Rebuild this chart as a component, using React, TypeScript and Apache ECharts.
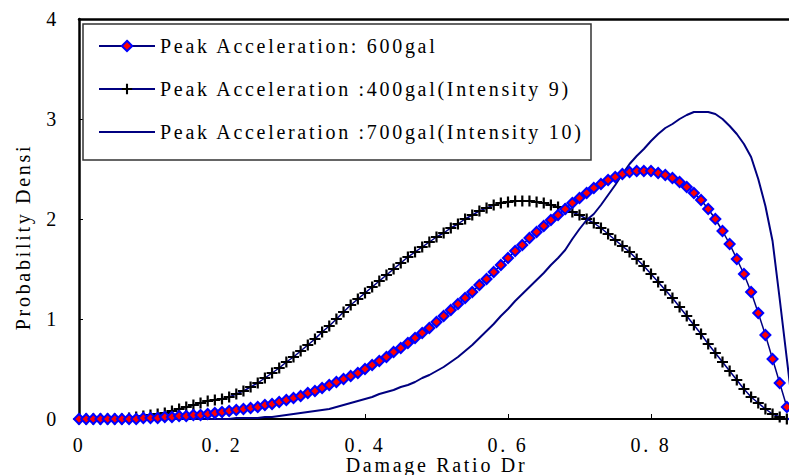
import React, { useEffect, useRef } from 'react';
import * as echarts from 'echarts';

const damageRatio = [
  0, 0.01, 0.02, 0.03, 0.04, 0.05, 0.06, 0.07, 0.08, 0.09,
  0.1, 0.11, 0.12, 0.13, 0.14, 0.15, 0.16, 0.17, 0.18, 0.19,
  0.2, 0.21, 0.22, 0.23, 0.24, 0.25, 0.26, 0.27, 0.28, 0.29,
  0.3, 0.31, 0.32, 0.33, 0.34, 0.35, 0.36, 0.37, 0.38, 0.39,
  0.4, 0.41, 0.42, 0.43, 0.44, 0.45, 0.46, 0.47, 0.48, 0.49,
  0.5, 0.51, 0.52, 0.53, 0.54, 0.55, 0.56, 0.57, 0.58, 0.59,
  0.6, 0.61, 0.62, 0.63, 0.64, 0.65, 0.66, 0.67, 0.68, 0.69,
  0.7, 0.71, 0.72, 0.73, 0.74, 0.75, 0.76, 0.77, 0.78, 0.79,
  0.8, 0.81, 0.82, 0.83, 0.84, 0.85, 0.86, 0.87, 0.88, 0.89,
  0.9, 0.91, 0.92, 0.93, 0.94, 0.95, 0.96, 0.97, 0.98, 0.99,
  1,
];

const pga600 = [
  0, 0, 0, 0, 0, 0, 0, 0, 0, 0.01,
  0.01, 0.01, 0.02, 0.02, 0.03, 0.03, 0.04, 0.04, 0.05, 0.06,
  0.07, 0.08, 0.09, 0.1, 0.11, 0.12, 0.14, 0.15, 0.17, 0.19,
  0.21, 0.23, 0.26, 0.28, 0.31, 0.34, 0.37, 0.4, 0.43, 0.46,
  0.5, 0.54, 0.58, 0.62, 0.67, 0.71, 0.76, 0.81, 0.86, 0.91,
  0.97, 1.03, 1.09, 1.15, 1.21, 1.27, 1.34, 1.4, 1.47, 1.54,
  1.61, 1.68, 1.74, 1.81, 1.87, 1.93, 1.99, 2.04, 2.1, 2.16,
  2.21, 2.26, 2.31, 2.35, 2.39, 2.42, 2.45, 2.47, 2.48, 2.48,
  2.48, 2.46, 2.44, 2.41, 2.37, 2.32, 2.26, 2.19, 2.1, 2.0,
  1.88, 1.75, 1.6, 1.45, 1.27, 1.06, 0.84, 0.6, 0.36, 0.12,
  0,
];

const pga400 = [
  0, 0, 0, 0, 0, 0, 0, 0.01, 0.02, 0.03,
  0.04, 0.05, 0.06, 0.08, 0.1, 0.12, 0.14, 0.16, 0.18, 0.19,
  0.2, 0.22, 0.25, 0.28, 0.32, 0.36, 0.41, 0.46, 0.51, 0.57,
  0.62, 0.68, 0.74, 0.8, 0.87, 0.93, 1.0, 1.07, 1.14, 1.2,
  1.26, 1.32, 1.38, 1.44, 1.5, 1.56, 1.62, 1.67, 1.72, 1.77,
  1.82, 1.86, 1.91, 1.95, 2.0, 2.04, 2.08, 2.11, 2.14, 2.16,
  2.17, 2.18, 2.18, 2.18, 2.17, 2.16, 2.14, 2.12, 2.1, 2.07,
  2.04, 2.0, 1.96, 1.91, 1.85, 1.79, 1.73, 1.67, 1.6, 1.53,
  1.45, 1.37, 1.29, 1.21, 1.12, 1.03, 0.94, 0.85, 0.75, 0.66,
  0.57, 0.48, 0.39, 0.3, 0.22, 0.16, 0.1, 0.05, 0.02, 0,
  0,
];

const pga700 = [
  0, 0, 0, 0, 0, 0, 0, 0, 0, 0,
  0, 0, 0, 0, 0, 0, 0, 0, 0, 0,
  0, 0, 0.01, 0.01, 0.01, 0.01, 0.02, 0.02, 0.03, 0.04,
  0.05, 0.06, 0.07, 0.08, 0.09, 0.1, 0.12, 0.14, 0.16, 0.18,
  0.2, 0.22, 0.25, 0.27, 0.29, 0.32, 0.34, 0.37, 0.41, 0.44,
  0.48, 0.52, 0.57, 0.62, 0.68, 0.74, 0.81, 0.88, 0.95, 1.03,
  1.1, 1.18, 1.25, 1.32, 1.39, 1.46, 1.54, 1.61, 1.69, 1.8,
  1.9, 1.99, 2.05, 2.14, 2.24, 2.34, 2.45, 2.55, 2.63, 2.7,
  2.78, 2.85, 2.91, 2.95, 3.0, 3.04, 3.07, 3.07, 3.07, 3.05,
  3.0, 2.93, 2.85, 2.75, 2.62, 2.4, 2.13, 1.78, 1.2, 0.6,
  0,
];

const seriesNames = [
  'Peak Acceleration: 600gal',
  'Peak Acceleration :400gal(Intensity 9)',
  'Peak Acceleration :700gal(Intensity 10)',
];

const xAxisTitle = 'Damage Ratio Dr';
const yAxisTitle = 'Probability Densi';
const xTickLabels: Record<string, string> = {
  '0': '0',
  '0.2': '0. 2',
  '0.4': '0. 4',
  '0.6': '0. 6',
  '0.8': '0. 8',
  '1': '',
};

const FONT = 'Liberation Serif, serif';
const PLUS = 'path://M4,0H6V4H10V6H6V10H4V6H0V4H4Z';

export default function App() {
  const ref = useRef<HTMLDivElement>(null);

  useEffect(() => {
    if (!ref.current) return;
    const chart = echarts.init(ref.current, null, { renderer: 'svg' });
    const pairs = (ys: number[]) => damageRatio.map((x, i) => [x, ys[i]]);
    chart.setOption({
      animation: false,
      backgroundColor: '#fff',
      grid: {
        left: 79,
        top: 19,
        width: 715,
        height: 400,
        containLabel: false,
        outerBoundsMode: 'none',
      },
      xAxis: [
        {
          type: 'value',
          min: 0,
          max: 1,
          interval: 0.2,
          position: 'bottom',
          name: xAxisTitle,
          nameLocation: 'middle',
          nameGap: 36,
          nameMoveOverlap: false,
          nameTextStyle: { fontFamily: FONT, fontSize: 20, color: '#000' },
          axisLine: { show: true, onZero: false, lineStyle: { color: '#000', width: 2 } },
          axisTick: { show: true, inside: true, length: 5, lineStyle: { color: '#000', width: 1 } },
          axisLabel: {
            margin: 16,
            fontFamily: FONT,
            fontSize: 20,
            color: '#000',
            formatter: (v: number) => {
              const k = String(Math.round(v * 10) / 10);
              return xTickLabels[k] ?? k;
            },
          },
          splitLine: { show: false },
        },
        {
          type: 'value',
          min: 0,
          max: 1,
          position: 'top',
          axisLine: { show: true, onZero: false, lineStyle: { color: '#000', width: 2.5 } },
          axisTick: { show: false },
          axisLabel: { show: false },
          splitLine: { show: false },
        },
      ],
      yAxis: {
        type: 'value',
        min: 0,
        max: 4,
        interval: 1,
        name: yAxisTitle,
        nameLocation: 'middle',
        nameGap: 46,
        nameRotate: 90,
        nameTextStyle: { fontFamily: FONT, fontSize: 20, color: '#000', padding: [0, 36, 0, 0] },
        axisLine: { show: true, onZero: false, lineStyle: { color: '#000', width: 2.5 } },
        axisTick: { show: true, inside: true, length: 4, lineStyle: { color: '#000', width: 1 } },
        axisLabel: { margin: 20, fontFamily: FONT, fontSize: 20, color: '#000' },
        splitLine: { show: false },
      },
      legend: {
        orient: 'vertical',
        left: 93,
        top: 30,
        itemWidth: 56,
        itemHeight: 13,
        itemGap: 21,
        selectedMode: false,
        data: [
          { name: seriesNames[0] },
          { name: seriesNames[1] },
          { name: seriesNames[2], itemStyle: { opacity: 0 } },
        ],
        textStyle: { fontFamily: FONT, fontSize: 20, color: '#000', lineHeight: 22 },
      },
      graphic: [
        {
          type: 'rect',
          z: 1,
          shape: { x: 83, y: 24, width: 508, height: 136 },
          style: { fill: '#fff', stroke: '#333', lineWidth: 1.5 },
        },
      ],
      series: [
        {
          name: seriesNames[0],
          type: 'line',
          data: pairs(pga600),
          symbol: 'diamond',
          symbolSize: 10,
          z: 4,
          itemStyle: { color: '#ff0000', borderColor: '#0000ff', borderWidth: 2 },
          lineStyle: { color: '#000080', width: 1.5 },
        },
        {
          name: seriesNames[1],
          type: 'line',
          data: pairs(pga400),
          symbol: PLUS,
          symbolSize: 11,
          z: 2,
          itemStyle: { color: '#000' },
          lineStyle: { color: '#000080', width: 1.5 },
        },
        {
          name: seriesNames[2],
          type: 'line',
          data: pairs(pga700),
          symbol: 'none',
          z: 3,
          itemStyle: { color: '#000080' },
          lineStyle: { color: '#000080', width: 2 },
        },
      ],
    });
    return () => chart.dispose();
  }, []);

  return (
    <div
      ref={ref}
      style={{
        position: 'fixed',
        left: 0,
        top: 0,
        width: 789,
        height: 475,
        letterSpacing: '2.7px',
        background: '#fff',
      }}
    />
  );
}
